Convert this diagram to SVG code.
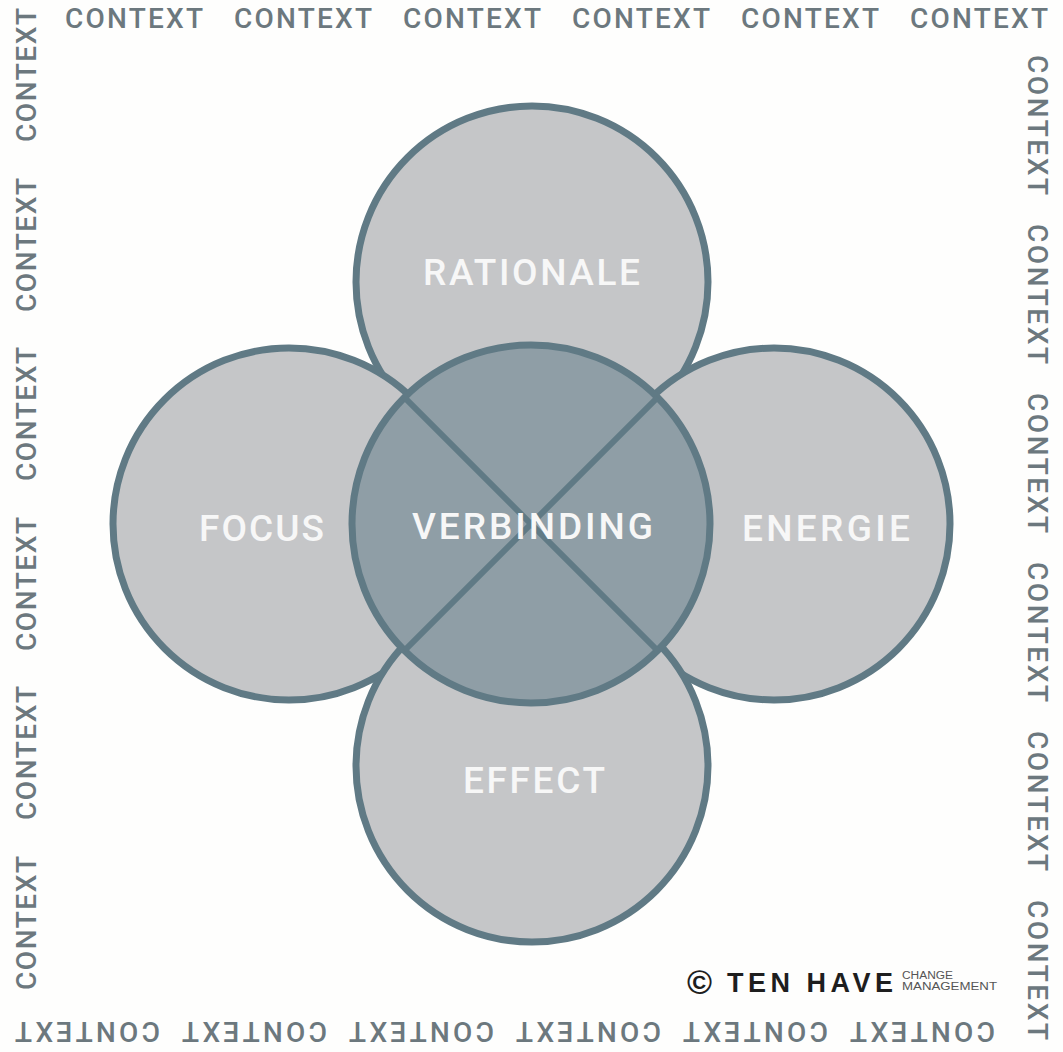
<svg xmlns="http://www.w3.org/2000/svg" width="1063" height="1052" viewBox="0 0 1063 1052">
  <style>
    .ctx { font-family: Roboto, "Liberation Sans", sans-serif; font-weight: 500; font-size: 28px; fill: #6c787e; }
    .outer { fill: #c5c6c8; stroke: #607a85; stroke-width: 7; }
    .center { fill: #8f9ea6; stroke: #607a85; stroke-width: 7; }
    .div { stroke: #607a85; stroke-width: 6; }
    .lbl { font-family: Roboto, "Liberation Sans", sans-serif; font-weight: 500; font-size: 37px; fill: #f7f7f7; }
    .logo { font-family: "Liberation Sans", Arial, sans-serif; font-weight: bold; fill: #1e1e1e; }
    .small { font-family: "Liberation Sans", Arial, sans-serif; font-size: 10px; fill: #555; }
  </style>
  <rect width="1063" height="1052" fill="#fefefd"/>

  <g id="context-border">
    <g id="context-top">
      <text class="ctx" x="65" y="28" textLength="138" lengthAdjust="spacing">CONTEXT</text>
      <text class="ctx" x="234" y="28" textLength="138" lengthAdjust="spacing">CONTEXT</text>
      <text class="ctx" x="403" y="28" textLength="138" lengthAdjust="spacing">CONTEXT</text>
      <text class="ctx" x="572" y="28" textLength="138" lengthAdjust="spacing">CONTEXT</text>
      <text class="ctx" x="741" y="28" textLength="138" lengthAdjust="spacing">CONTEXT</text>
      <text class="ctx" x="910" y="28" textLength="138" lengthAdjust="spacing">CONTEXT</text>
    </g>
    <g id="context-left">
      <text class="ctx" transform="translate(36,990) rotate(-90)" textLength="134" lengthAdjust="spacing">CONTEXT</text>
      <text class="ctx" transform="translate(36,820) rotate(-90)" textLength="134" lengthAdjust="spacing">CONTEXT</text>
      <text class="ctx" transform="translate(36,651) rotate(-90)" textLength="134" lengthAdjust="spacing">CONTEXT</text>
      <text class="ctx" transform="translate(36,481) rotate(-90)" textLength="134" lengthAdjust="spacing">CONTEXT</text>
      <text class="ctx" transform="translate(36,312) rotate(-90)" textLength="134" lengthAdjust="spacing">CONTEXT</text>
      <text class="ctx" transform="translate(36,142) rotate(-90)" textLength="134" lengthAdjust="spacing">CONTEXT</text>
    </g>
    <g id="context-right">
      <text class="ctx" transform="translate(1028,55) rotate(90)" textLength="140" lengthAdjust="spacing">CONTEXT</text>
      <text class="ctx" transform="translate(1028,224) rotate(90)" textLength="140" lengthAdjust="spacing">CONTEXT</text>
      <text class="ctx" transform="translate(1028,393) rotate(90)" textLength="140" lengthAdjust="spacing">CONTEXT</text>
      <text class="ctx" transform="translate(1028,562) rotate(90)" textLength="140" lengthAdjust="spacing">CONTEXT</text>
      <text class="ctx" transform="translate(1028,731) rotate(90)" textLength="140" lengthAdjust="spacing">CONTEXT</text>
      <text class="ctx" transform="translate(1028,900) rotate(90)" textLength="140" lengthAdjust="spacing">CONTEXT</text>
    </g>
    <g id="context-bottom">
      <text class="ctx" transform="translate(160,1022) rotate(180)" textLength="145" lengthAdjust="spacing">CONTEXT</text>
      <text class="ctx" transform="translate(327,1022) rotate(180)" textLength="145" lengthAdjust="spacing">CONTEXT</text>
      <text class="ctx" transform="translate(494,1022) rotate(180)" textLength="145" lengthAdjust="spacing">CONTEXT</text>
      <text class="ctx" transform="translate(661,1022) rotate(180)" textLength="145" lengthAdjust="spacing">CONTEXT</text>
      <text class="ctx" transform="translate(828,1022) rotate(180)" textLength="145" lengthAdjust="spacing">CONTEXT</text>
      <text class="ctx" transform="translate(995,1022) rotate(180)" textLength="145" lengthAdjust="spacing">CONTEXT</text>
    </g>
  </g>

  <g id="node-rationale">
    <circle class="outer" cx="532" cy="282" r="176"/>
    <text class="lbl" x="423" y="285" textLength="217" lengthAdjust="spacing">RATIONALE</text>
  </g>
  <g id="node-focus">
    <circle class="outer" cx="289" cy="524" r="176"/>
    <text class="lbl" x="199" y="541" textLength="125" lengthAdjust="spacing">FOCUS</text>
  </g>
  <g id="node-energie">
    <circle class="outer" cx="774" cy="524" r="176"/>
    <text class="lbl" x="742" y="541" textLength="168" lengthAdjust="spacing">ENERGIE</text>
  </g>
  <g id="node-effect">
    <circle class="outer" cx="532" cy="766" r="176"/>
    <text class="lbl" x="463" y="793" textLength="142" lengthAdjust="spacing">EFFECT</text>
  </g>

  <g id="node-verbinding">
    <circle class="center" cx="531" cy="524" r="179"/>
    <g id="connectors">
      <line class="div" x1="404.4" y1="397.4" x2="657.6" y2="650.6"/>
      <line class="div" x1="657.6" y1="397.4" x2="404.4" y2="650.6"/>
    </g>
    <text class="lbl" x="412" y="539" textLength="241" lengthAdjust="spacing">VERBINDING</text>
  </g>

  <g id="logo">
    <text class="logo" x="687" y="994" font-size="34">©</text>
    <text class="logo" x="727" y="992" font-size="27" font-weight="900" textLength="166" lengthAdjust="spacing">TEN HAVE</text>
    <text class="small" x="902" y="979" textLength="51" lengthAdjust="spacingAndGlyphs">CHANGE</text>
    <text class="small" x="902" y="990" textLength="95" lengthAdjust="spacingAndGlyphs">MANAGEMENT</text>
  </g>
</svg>
